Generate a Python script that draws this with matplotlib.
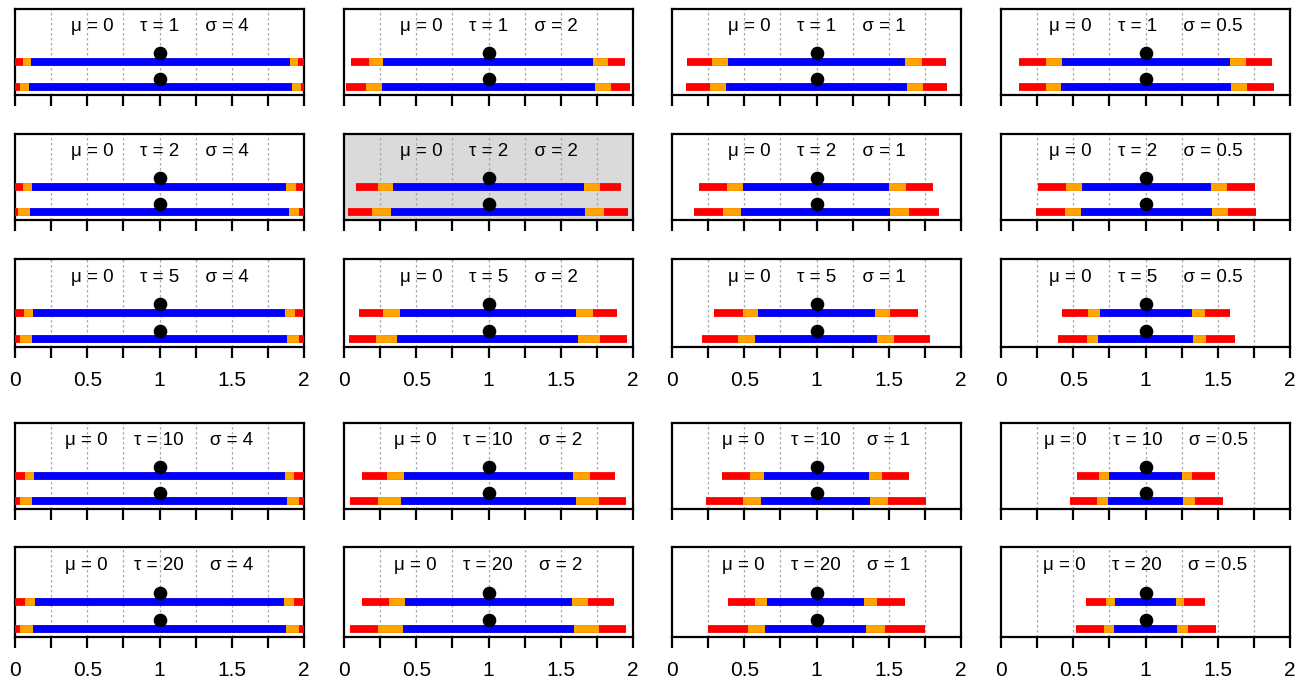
import numpy as np
import matplotlib
matplotlib.use('Agg')
import matplotlib.pyplot as plt

plt.rcParams['font.family'] = ['Liberation Sans', 'DejaVu Sans']

# parametres de cada panell
mu = 0
tau_vals = [1, 2, 5, 10, 20]        # files
sigma_vals = [4, 2, 1, 0.5]         # columnes

# Barra superior (files x columnes)
red_lo_top = [[0.0, 0.050, 0.105, 0.128],
              [0.0, 0.081, 0.186, 0.256],
              [0.0, 0.105, 0.291, 0.419],
              [0.0, 0.122, 0.349, 0.525],
              [0.0, 0.122, 0.390, 0.590]]
orange_lo_top = [[0.055, 0.174, 0.275, 0.314],
                 [0.058, 0.235, 0.384, 0.448],
                 [0.064, 0.267, 0.494, 0.599],
                 [0.070, 0.297, 0.541, 0.681],
                 [0.070, 0.308, 0.576, 0.729]]
blue_lo_top = [[0.108, 0.273, 0.385, 0.419],
               [0.116, 0.339, 0.494, 0.558],
               [0.128, 0.390, 0.593, 0.686],
               [0.134, 0.413, 0.634, 0.748],
               [0.140, 0.419, 0.657, 0.786]]
blue_hi_top = [[1.900, 1.721, 1.615, 1.587],
               [1.878, 1.662, 1.500, 1.453],
               [1.866, 1.605, 1.407, 1.320],
               [1.866, 1.587, 1.360, 1.253],
               [1.860, 1.576, 1.331, 1.213]]
orange_hi_top = [[1.960, 1.826, 1.727, 1.698],
                 [1.942, 1.770, 1.616, 1.564],
                 [1.936, 1.721, 1.506, 1.413],
                 [1.930, 1.703, 1.453, 1.323],
                 [1.930, 1.692, 1.419, 1.269]]
red_hi_top = [[2.0, 1.948, 1.893, 1.878],
              [2.0, 1.920, 1.808, 1.756],
              [2.0, 1.890, 1.703, 1.587],
              [2.0, 1.878, 1.640, 1.483],
              [2.0, 1.866, 1.610, 1.409]]

# Barra inferior
red_lo_bot = [[0.0, 0.017, 0.094, 0.128],
              [0.0, 0.030, 0.151, 0.244],
              [0.0, 0.035, 0.209, 0.395],
              [0.0, 0.041, 0.238, 0.477],
              [0.0, 0.041, 0.250, 0.519]]
orange_lo_bot = [[0.032, 0.151, 0.262, 0.308],
                 [0.023, 0.192, 0.355, 0.442],
                 [0.035, 0.221, 0.459, 0.593],
                 [0.035, 0.233, 0.494, 0.663],
                 [0.035, 0.238, 0.523, 0.710]]
blue_lo_bot = [[0.100, 0.262, 0.377, 0.413],
               [0.105, 0.325, 0.477, 0.552],
               [0.116, 0.366, 0.576, 0.674],
               [0.116, 0.395, 0.616, 0.738],
               [0.122, 0.407, 0.645, 0.779]]
blue_hi_bot = [[1.917, 1.738, 1.626, 1.593],
               [1.895, 1.668, 1.512, 1.459],
               [1.884, 1.622, 1.419, 1.331],
               [1.884, 1.605, 1.372, 1.262],
               [1.878, 1.593, 1.343, 1.218]]
orange_hi_bot = [[1.980, 1.849, 1.740, 1.703],
                 [1.965, 1.800, 1.640, 1.570],
                 [1.965, 1.773, 1.535, 1.419],
                 [1.965, 1.767, 1.494, 1.343],
                 [1.965, 1.762, 1.471, 1.291]]
red_hi_bot = [[2.0, 1.977, 1.906, 1.890],
              [2.0, 1.963, 1.849, 1.762],
              [2.0, 1.959, 1.785, 1.622],
              [2.0, 1.953, 1.756, 1.535],
              [2.0, 1.953, 1.750, 1.485]]

centre = 1.0
tick_pos = np.arange(0, 2.01, 0.25)
tick_lab = ['0', '', '0.5', '', '1', '', '1.5', '', '2']
labelled_rows = [2, 4]
shaded = (1, 1)

# Disposicio (pixels)
W, H = 1314, 682
col_left = [15, 344, 672, 1001]
ax_w = 289
row_top = [9, 134, 259, 423, 547]
row_bot = [95, 220, 347, 509, 637]

fig = plt.figure(figsize=(W / 100, H / 100), dpi=100)

def barra(ax, y, lims, color):
    ax.plot(lims, [y, y], color=color, lw=5.6, solid_capstyle='butt', zorder=3)

for i, tau in enumerate(tau_vals):
    for j, sigma in enumerate(sigma_vals):
        ax = fig.add_axes([col_left[j] / W, 1 - row_bot[i] / H, ax_w / W, (row_bot[i] - row_top[i]) / H])
        ax.set_xlim(0, 2); ax.set_ylim(0, 1)
        if (i, j) == shaded:
            ax.set_facecolor('#DADADA')

        for g in tick_pos[1:-1]:
            ax.axvline(g, color='#A8A8A8', lw=0.9, ls=(0, (2, 2)), zorder=1)

        for y, parts in [(0.387, (red_lo_top, orange_lo_top, blue_lo_top, blue_hi_top, orange_hi_top, red_hi_top)),
                         (0.090, (red_lo_bot, orange_lo_bot, blue_lo_bot, blue_hi_bot, orange_hi_bot, red_hi_bot))]:
            rl, ol, bl, bh, oh, rh = [p[i][j] for p in parts]
            barra(ax, y, [rl, rh], '#FF0000')
            barra(ax, y, [ol, oh], '#FFA500')
            barra(ax, y, [bl, bh], '#0000FF')

        ax.plot([centre, centre], [0.485, 0.186], 'o', color='black', ms=8.8, zorder=4)

        txt = f"\u03bc = {mu}     \u03c4 = {tau}     \u03c3 = {sigma:g}"
        ax.text(centre, 0.795, txt, ha='center', va='center', fontsize=13.5)

        for s in ax.spines.values():
            s.set_linewidth(1.6)
        ax.set_yticks([])
        ax.set_xticks(tick_pos)
        ax.tick_params(axis='x', direction='out', length=8, width=1.6, labelsize=15, pad=9)
        if i in labelled_rows:
            ax.set_xticklabels(tick_lab)
        else:
            ax.set_xticklabels([])

fig.savefig('out.png', dpi=100)
